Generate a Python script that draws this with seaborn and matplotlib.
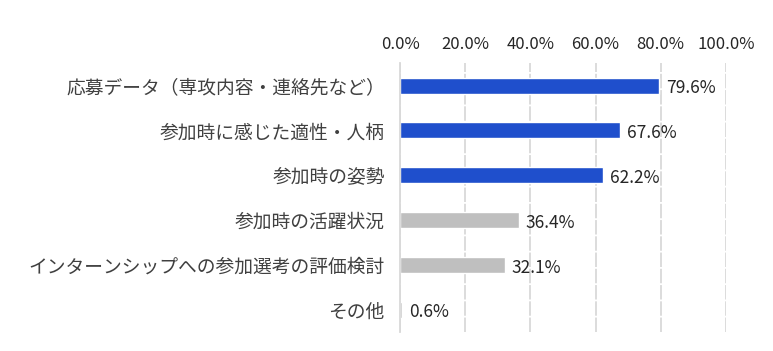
import matplotlib
matplotlib.use("Agg")
import pandas as pd
import seaborn as sns
import matplotlib.pyplot as plt
from matplotlib.ticker import PercentFormatter

# 項目と割合（%）
categories = [
    "応募データ（専攻内容・連絡先など）",
    "参加時に感じた適性・人柄",
    "参加時の姿勢",
    "参加時の活躍状況",
    "インターンシップへの参加選考の評価検討",
    "その他",
]
values = [79.6, 67.6, 62.2, 36.4, 32.1, 0.6]
bar_colors = ["#1F4FCC", "#1F4FCC", "#1F4FCC", "#BFBFBF", "#BFBFBF", "#BFBFBF"]
x_ticks = [0, 20, 40, 60, 80, 100]

sns.set_style("white")
plt.rcParams["font.family"] = ["Noto Sans CJK JP", "DejaVu Sans"]

df = pd.DataFrame({"item": categories, "pct": values})

fig = plt.figure(figsize=(7.73, 3.51), dpi=100)
ax = fig.add_axes([0.5175, 0.054, 0.4215, 0.766])

sns.barplot(
    data=df, x="pct", y="item", hue="item",
    palette=bar_colors, saturation=1, width=0.36, legend=False, ax=ax,
)

# 値ラベル
for i, v in enumerate(values):
    ax.text(v + 2.2, i + 0.06, f"{v:.1f}%", va="center", ha="left",
            fontsize=12.5, color="#262626")

ax.set_xlim(0, 100)
ax.set_ylim(5.5, -0.5)
ax.set_xticks(x_ticks)
ax.xaxis.set_major_formatter(PercentFormatter(decimals=1))
ax.xaxis.tick_top()
ax.tick_params(axis="x", length=0, pad=7, labelsize=12, labelcolor="#262626")
ax.tick_params(axis="y", length=0, pad=11, labelsize=13.5, labelcolor="#404040")
ax.set_xlabel("")
ax.set_ylabel("")

ax.grid(True, axis="x", color="#D9D9D9", linewidth=1.3, linestyle=(0, (8, 1)))
ax.set_axisbelow(True)
for s in ["top", "right", "bottom"]:
    ax.spines[s].set_visible(False)
ax.spines["left"].set_color("#D9D9D9")
ax.spines["left"].set_linewidth(1.3)

fig.savefig("out.png", dpi=100)
